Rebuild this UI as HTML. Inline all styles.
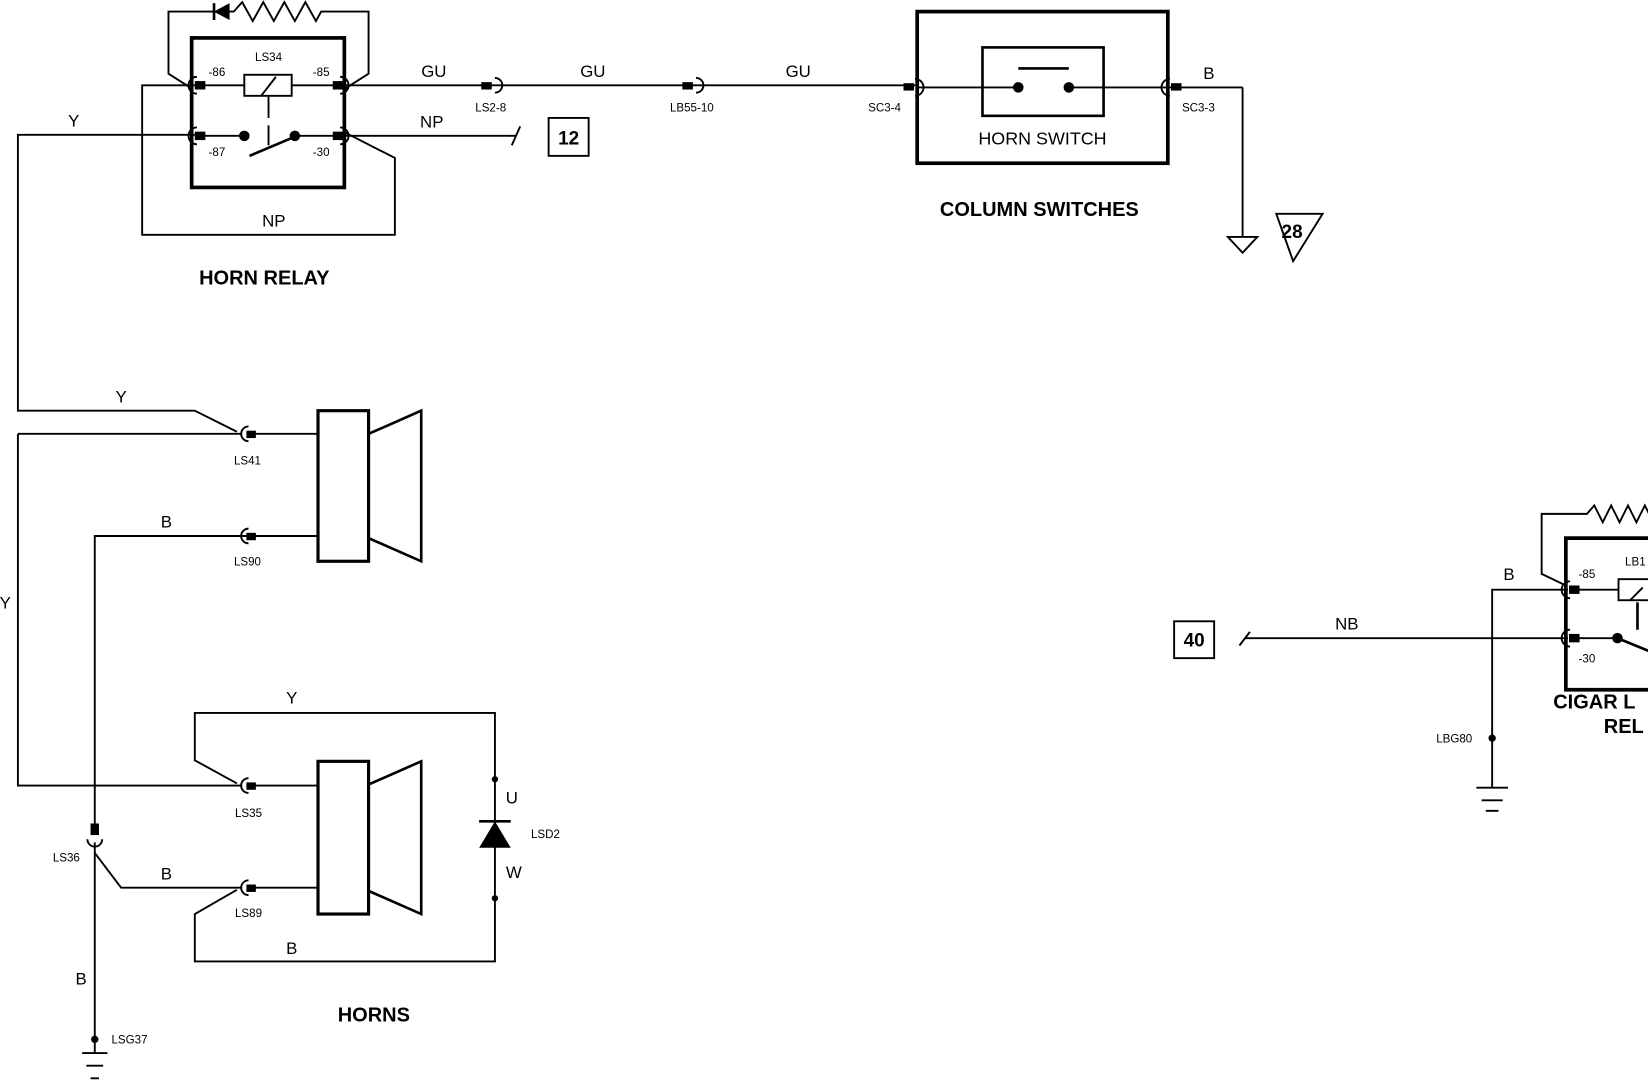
<!DOCTYPE html>
<html><head><meta charset="utf-8"><style>
html,body{margin:0;padding:0;background:#fff;}
svg{display:block;}
text{font-family:"Liberation Sans",Arial,sans-serif;fill:#000;}
.l{font-size:16px;text-anchor:middle;}
.s{font-size:11px;text-anchor:middle;}
.t{font-size:19px;font-weight:bold;text-anchor:middle;}
.n{font-size:18px;font-weight:bold;text-anchor:middle;}
</style></head><body>
<svg width="1648" height="1084" viewBox="0 0 1565 1029.4" xmlns="http://www.w3.org/2000/svg">
<g fill="none" stroke="#000" stroke-width="1.8" stroke-linejoin="miter">
<rect x="182" y="36" width="145" height="142" stroke-width="3.5"/>
<rect x="232" y="71" width="45" height="20"/>
<line x1="248" y1="91" x2="262" y2="73"/>
<line x1="185" y1="81" x2="232" y2="81"/>
<line x1="277" y1="81" x2="325" y2="81"/>
<line x1="255" y1="91" x2="255" y2="112"/>
<line x1="255" y1="119" x2="255" y2="138"/>
<line x1="185" y1="129" x2="232" y2="129"/>
<line x1="280" y1="129" x2="325" y2="129"/>
<line x1="237" y1="148" x2="282" y2="129" stroke-width="2.5"/>
<polyline points="182,84 160,70 160,11 203,11"/>
<polyline points="218,11 222,11 230,2 240,20 250,2 260,20 270,2 280,20 290,2 300,20 305,11 350,11 350,70 328,84"/>
<polyline points="185,81 135,81 135,223 375,223 375,150 328,126"/>
<polyline points="185,128 17,128 17,390 185,390 225,410"/>
<line x1="327" y1="81" x2="870" y2="81"/>
<line x1="327" y1="129" x2="490" y2="129"/>
<line x1="486" y1="138" x2="494" y2="120"/>
<rect x="521" y="112" width="38" height="36"/>
<rect x="871" y="11" width="238" height="144" stroke-width="3.5"/>
<rect x="933" y="45" width="115" height="65" stroke-width="2.5"/>
<line x1="967" y1="65" x2="1015" y2="65" stroke-width="2.5"/>
<line x1="871" y1="83" x2="967" y2="83"/>
<line x1="1015" y1="83" x2="1180" y2="83"/>
<polyline points="1180,83 1180,225"/>
<polygon points="1166,225 1194,225 1180,240"/>
<polygon points="1212,203 1256,203 1228,248"/>
<rect x="302" y="390" width="48" height="143" stroke-width="3"/>
<polygon points="350,412 400,390 400,533 350,511" stroke-width="2.5"/>
<polyline points="17,412 230,412"/>
<line x1="240" y1="412" x2="302" y2="412"/>
<polyline points="90,785 90,509 302,509"/>
<polyline points="17,412 17,746 230,746"/>
<line x1="240" y1="746" x2="302" y2="746"/>
<rect x="302" y="723" width="48" height="145" stroke-width="3"/>
<polygon points="350,745 400,723 400,868 350,846" stroke-width="2.5"/>
<polyline points="225,744 185,722 185,677 470,677 470,913 185,913 185,868 225,845"/>
<line x1="240" y1="843" x2="302" y2="843"/>
<polyline points="90,810 115,843 230,843"/>
<line x1="90" y1="800" x2="90" y2="1000"/>
<line x1="78" y1="1000" x2="102" y2="1000"/>
<line x1="82" y1="1012" x2="98" y2="1012"/>
<line x1="86" y1="1024" x2="94" y2="1024"/>
<line x1="455" y1="780" x2="485" y2="780" stroke-width="2.5"/>
<rect x="1115" y="590" width="38" height="35"/>
<line x1="1177" y1="613" x2="1187" y2="600"/>
<line x1="1182" y1="606" x2="1489" y2="606"/>
<polyline points="1489,560 1417,560 1417,748"/>
<line x1="1402" y1="748" x2="1432" y2="748"/>
<line x1="1407" y1="760" x2="1427" y2="760"/>
<line x1="1411" y1="770" x2="1423" y2="770"/>
<path d="M1570,655 L1487,655 L1487,511 L1570,511" stroke-width="3.5"/>
<polyline points="1487,556 1464,545 1464,488 1507,488 1514,480 1522,496 1530,480 1538,496 1546,480 1554,496 1562,480 1570,496"/>
<rect x="1537" y="550" width="40" height="20"/>
<line x1="1548" y1="570" x2="1560" y2="558"/>
<line x1="1495" y1="560" x2="1537" y2="560"/>
<line x1="1495" y1="606" x2="1536" y2="606"/>
<line x1="1536" y1="606" x2="1570" y2="620" stroke-width="2.5"/>
<line x1="1555" y1="572" x2="1555" y2="598" stroke-width="2.5"/>
<path d="M187,73 A8,8 0 0 0 187,89"/>
<path d="M323,73 A8,8 0 0 1 323,89"/>
<path d="M187,121 A8,8 0 0 0 187,137"/>
<path d="M323,121 A8,8 0 0 1 323,137"/>
<path d="M470,74 A7,7 0 0 1 470,88"/>
<path d="M661,74 A7,7 0 0 1 661,88"/>
<path d="M869,75 A8,8 0 0 1 869,91"/>
<path d="M1111,75 A8,8 0 0 0 1111,91"/>
<path d="M236,405 A7,7 0 0 0 236,419"/>
<path d="M236,502 A7,7 0 0 0 236,516"/>
<path d="M236,739 A7,7 0 0 0 236,753"/>
<path d="M236,836 A7,7 0 0 0 236,850"/>
<path d="M83,797 A7,7 0 0 0 97,797"/>
<path d="M1491,552 A8,8 0 0 0 1491,568"/>
<path d="M1491,598 A8,8 0 0 0 1491,614"/>
</g>
<g fill="#000">
<rect x="185" y="77" width="10" height="8"/>
<rect x="316" y="77" width="10" height="8"/>
<rect x="185" y="125" width="10" height="8"/>
<rect x="316" y="125" width="10" height="8"/>
<circle cx="232" cy="129" r="5"/><circle cx="280" cy="129" r="5"/>
<polygon points="203,11 218,3 218,19"/><rect x="202" y="3" width="2.5" height="16"/>
<rect x="457" y="78" width="10" height="7"/>
<rect x="648" y="78" width="10" height="7"/>
<rect x="858" y="79" width="10" height="7"/>
<rect x="1112" y="79" width="10" height="7"/>
<circle cx="967" cy="83" r="5"/><circle cx="1015" cy="83" r="5"/>
<rect x="234" y="409" width="9" height="7"/>
<rect x="234" y="506" width="9" height="7"/>
<rect x="234" y="743" width="9" height="7"/>
<rect x="234" y="840" width="9" height="7"/>
<rect x="86" y="782" width="8" height="11"/>
<polygon points="470,780 455,805 485,805"/>
<circle cx="470" cy="740" r="3"/><circle cx="470" cy="853" r="3"/>
<circle cx="90" cy="987" r="3.5"/>
<rect x="1490" y="556" width="10" height="8"/>
<rect x="1490" y="602" width="10" height="8"/>
<circle cx="1536" cy="606" r="5"/>
<circle cx="1417" cy="701" r="3.5"/>
</g>
<text class="s" x="255" y="58">LS34</text>
<text class="s" x="206" y="72">-86</text>
<text class="s" x="305" y="72">-85</text>
<text class="s" x="206" y="148">-87</text>
<text class="s" x="305" y="148">-30</text>
<text class="l" x="260" y="215">NP</text>
<text class="t" x="251" y="270">HORN RELAY</text>
<text class="l" x="70" y="120">Y</text>
<text class="l" x="412" y="73">GU</text>
<text class="l" x="563" y="73">GU</text>
<text class="l" x="758" y="73">GU</text>
<text class="l" x="410" y="121">NP</text>
<text class="s" x="466" y="106">LS2-8</text>
<text class="s" x="657" y="106">LB55-10</text>
<text class="s" x="840" y="106">SC3-4</text>
<text class="s" x="1138" y="106">SC3-3</text>
<text class="n" x="540" y="137">12</text>
<text class="l" x="990" y="137" style="font-size:17px">HORN SWITCH</text>
<text class="t" x="987" y="205">COLUMN SWITCHES</text>
<text class="l" x="1148" y="75">B</text>
<text class="n" x="1227" y="226">28</text>
<text class="l" x="115" y="382">Y</text>
<text class="s" x="235" y="441">LS41</text>
<text class="l" x="158" y="501">B</text>
<text class="s" x="235" y="537">LS90</text>
<text class="l" x="5" y="578">Y</text>
<text class="l" x="277" y="668">Y</text>
<text class="s" x="236" y="776">LS35</text>
<text class="s" x="63" y="818">LS36</text>
<text class="l" x="158" y="835">B</text>
<text class="s" x="236" y="871">LS89</text>
<text class="l" x="277" y="906">B</text>
<text class="l" x="486" y="763">U</text>
<text class="l" x="488" y="834">W</text>
<text class="s" x="518" y="796">LSD2</text>
<text class="t" x="355" y="970">HORNS</text>
<text class="l" x="77" y="935">B</text>
<text class="s" x="123" y="991">LSG37</text>
<text class="n" x="1134" y="614">40</text>
<text class="l" x="1279" y="598">NB</text>
<text class="l" x="1433" y="551">B</text>
<text class="s" x="1507" y="549">-85</text>
<text class="s" x="1507" y="629">-30</text>
<text class="s" x="1553" y="537">LB1</text>
<text class="s" x="1381" y="705">LBG80</text>
<text class="t" x="1475" y="673" style="text-anchor:start">CIGAR L</text>
<text class="t" x="1523" y="696" style="text-anchor:start">REL</text>
</svg>
</body></html>
